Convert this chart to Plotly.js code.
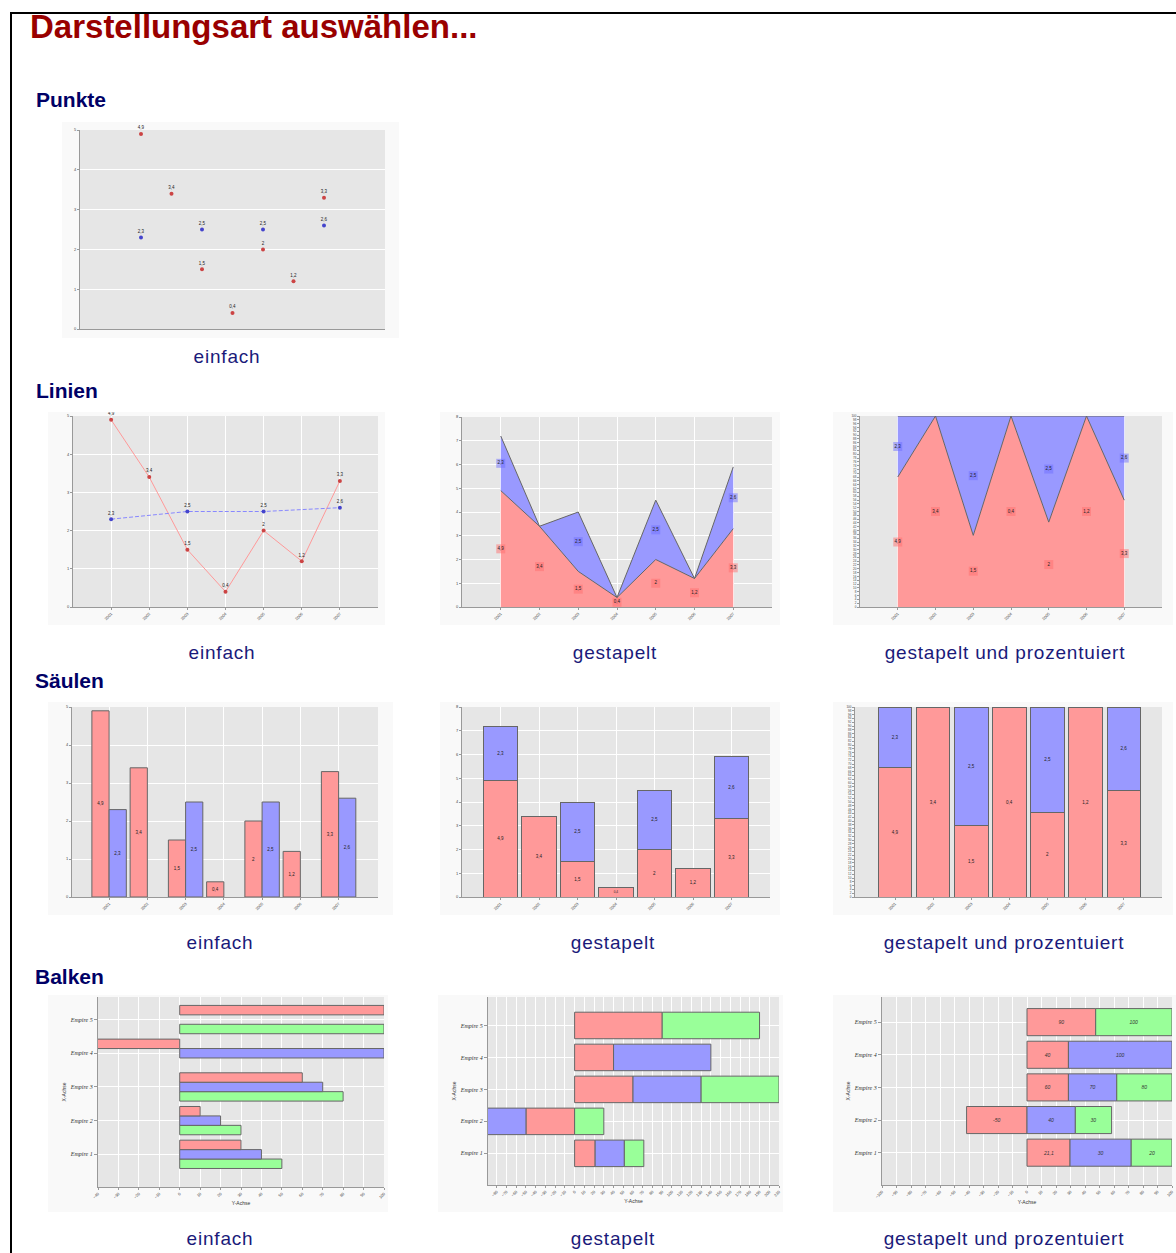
<!DOCTYPE html>
<html><head><meta charset="utf-8">
<script src="https://cdn.plot.ly/plotly-3.0.1.min.js"></script>
<style>
body{margin:0;background:#fff;width:1176px;height:1253px;overflow:hidden;position:relative;font-family:"Liberation Sans",Arial,sans-serif}
#frame{position:absolute;left:10px;top:12px;width:1170px;height:1250px;border-top:2px solid #000;border-left:2px solid #000}
.t{position:absolute;white-space:nowrap}
#title{left:30px;top:7px;font-size:33px;line-height:40px;font-weight:bold;color:#990000}
.h{font-size:21px;line-height:26px;font-weight:bold;color:#000066}
.c{font-size:19px;line-height:24px;letter-spacing:0.8px;color:#1a1a7a;transform:translateX(-50%)}
.p{position:absolute}
</style></head><body>
<div id="frame"></div>
<div id="title" class="t">Darstellungsart auswählen...</div>
<div class="t h" style="left:36px;top:87px">Punkte</div>
<div class="t h" style="left:36px;top:378px">Linien</div>
<div class="t h" style="left:35px;top:668px">Säulen</div>
<div class="t h" style="left:35px;top:964px">Balken</div>

<div class="t c" style="left:227px;top:345px">einfach</div>
<div class="t c" style="left:222px;top:641px">einfach</div>
<div class="t c" style="left:615px;top:641px">gestapelt</div>
<div class="t c" style="left:1005px;top:641px">gestapelt und prozentuiert</div>
<div class="t c" style="left:220px;top:931px">einfach</div>
<div class="t c" style="left:613px;top:931px">gestapelt</div>
<div class="t c" style="left:1004px;top:931px">gestapelt und prozentuiert</div>
<div class="t c" style="left:220px;top:1227px">einfach</div>
<div class="t c" style="left:613px;top:1227px">gestapelt</div>
<div class="t c" style="left:1004px;top:1227px">gestapelt und prozentuiert</div>

<div id="pEinfach" class="p" style="left:62px;top:122px;width:337px;height:216px"></div>
<div id="lEinfach" class="p" style="left:48px;top:412px;width:337px;height:213px"></div>
<div id="lStack" class="p" style="left:440px;top:412px;width:340px;height:213px"></div>
<div id="lPct" class="p" style="left:833px;top:412px;width:340px;height:213px"></div>
<div id="sEinfach" class="p" style="left:48px;top:702px;width:345px;height:213px"></div>
<div id="sStack" class="p" style="left:440px;top:702px;width:340px;height:213px"></div>
<div id="sPct" class="p" style="left:833px;top:702px;width:340px;height:213px"></div>
<div id="bEinfach" class="p" style="left:48px;top:995px;width:340px;height:217px"></div>
<div id="bStack" class="p" style="left:438px;top:995px;width:345px;height:217px"></div>
<div id="bPct" class="p" style="left:833px;top:995px;width:343px;height:217px"></div>

<script>
// ---------- data ----------
const years = ['2001','2002','2003','2004','2005','2006','2007'];
const redValues = [4.9, 3.4, 1.5, 0.4, 2, 1.2, 3.3];
const blueValues = [2.3, null, 2.5, null, 2.5, null, 2.6];

const empires = ['Empire 1','Empire 2','Empire 3','Empire 4','Empire 5'];
// Balken einfach
const barSimpleRed   = [30, 10, 60, -50, 100];
const barSimpleBlue  = [40, 20, 70, 100, null];
const barSimpleGreen = [50, 30, 80, null, 100];
// Balken gestapelt
const barStackRed   = [21.1, -50, 60, 40, 90];
const barStackBlue  = [30, -40, 70, 100, null];
const barStackGreen = [20, 30, 80, null, 100];
// Balken gestapelt und prozentuiert
const barPctRed   = [21.1, -50, 60, 40, 90];
const barPctBlue  = [30, 40, 70, 100, null];
const barPctGreen = [20, 30, 80, null, 100];

// ---------- style ----------
const RED='#ff9999', BLUE='#9999ff', GREEN='#99ff99', EDGE='#666666';
const fmt = v => (v===null||v===undefined) ? '' : String(v).replace('.', ',');
const tf = {size:4, color:'#444', family:'Liberation Sans, Arial'};
function axis(extra){
  return Object.assign({showline:true, linecolor:'#999', linewidth:1, gridcolor:'#ffffff', gridwidth:1,
    zeroline:false, ticks:'outside', ticklen:2, tickcolor:'#999', tickfont:tf, fixedrange:true}, extra||{});
}
function base(m, extra){
  return Object.assign({margin:m, paper_bgcolor:'#f9f9f9', plot_bgcolor:'#e6e6e6', showlegend:false,
    font:{family:'Liberation Sans, Arial', size:5, color:'#222'}}, extra||{});
}
const cfg = {staticPlot:true, displayModeBar:false};
const idx = years.map((_,i)=>i);
// label trace: small coloured boxes with text
function labelTrace(xs, ys, texts, bg){
  return {type:'scatter', x:xs, y:ys, text:texts, mode:'markers+text', textposition:'middle center',
    textfont:{size:4.5, color:'#222'}, marker:{symbol:'square', size:[], color:bg, line:{width:0}},
    hoverinfo:'skip', cliponaxis:false};
}
function withSizes(tr){ tr.marker.size = tr.text.map(()=>9); return tr; }

// ---------- Punkte einfach ----------
Plotly.newPlot('pEinfach', [
  {x:idx, y:redValues, mode:'markers+text', text:redValues.map(fmt), textposition:'top center',
   textfont:{size:4.5,color:'#222'}, marker:{color:'#cc4444', size:4}, cliponaxis:false},
  {x:idx, y:blueValues, mode:'markers+text', text:blueValues.map(fmt), textposition:'top center',
   textfont:{size:4.5,color:'#222'}, marker:{color:'#4444cc', size:4}, cliponaxis:false}
], base({l:18,r:14,t:8,b:9}, {
  xaxis:axis({range:[-2,8], showticklabels:false, ticks:'', showgrid:false}),
  yaxis:axis({range:[0,5], dtick:1})
}), cfg);

// ---------- Linien einfach ----------
Plotly.newPlot('lEinfach', [
  {x:years, y:redValues, mode:'lines+markers+text', text:redValues.map(fmt), textposition:'top center',
   textfont:{size:4.5,color:'#222'}, line:{color:'#ff9999', width:1}, marker:{color:'#cc4444', size:4}, cliponaxis:false},
  {x:years, y:blueValues, mode:'lines+markers+text', connectgaps:true, text:blueValues.map(fmt), textposition:'top center',
   textfont:{size:4.5,color:'#222'}, line:{color:'#8888ff', width:1, dash:'4px,2px'}, marker:{color:'#4444cc', size:4}, cliponaxis:false}
], base({l:25,r:7,t:4,b:18}, {
  xaxis:axis({type:'category', range:[-1,7], tickangle:-45}),
  yaxis:axis({range:[0,5], dtick:1})
}), cfg);

// ---------- Linien gestapelt ----------
(function(){
  const rx=[], ry=[], rt=[], bx=[], by=[], bt=[];
  idx.forEach(i=>{
    rx.push(years[i]); ry.push(redValues[i]/2); rt.push(fmt(redValues[i]));
    if(blueValues[i]!==null){ bx.push(years[i]); by.push(redValues[i]+blueValues[i]/2); bt.push(fmt(blueValues[i])); }
  });
  Plotly.newPlot('lStack', [
    {x:years, y:redValues, stackgroup:'one', mode:'lines', line:{color:EDGE, width:1}, fillcolor:RED},
    {x:years, y:blueValues, stackgroup:'one', mode:'lines', line:{color:EDGE, width:1}, fillcolor:BLUE},
    withSizes(labelTrace(rx, ry, rt, 'rgba(255,110,110,0.7)')),
    withSizes(labelTrace(bx, by, bt, 'rgba(110,110,255,0.7)'))
  ], base({l:22,r:8,t:5,b:18}, {
    xaxis:axis({type:'category', range:[-1,7], tickangle:-45}),
    yaxis:axis({range:[0,8], dtick:1})
  }), cfg);
})();

// ---------- Linien gestapelt und prozentuiert ----------
(function(){
  const rx=[], ry=[], rt=[], bx=[], by=[], bt=[];
  idx.forEach(i=>{
    const b = blueValues[i]||0, tot = redValues[i]+b;
    const rp = redValues[i]/tot*100, bp = b/tot*100;
    rx.push(years[i]); ry.push(rp/2); rt.push(fmt(redValues[i]));
    if(blueValues[i]!==null){ bx.push(years[i]); by.push(rp+bp/2); bt.push(fmt(blueValues[i])); }
  });
  Plotly.newPlot('lPct', [
    {x:years, y:redValues, stackgroup:'one', groupnorm:'percent', mode:'lines', line:{color:EDGE, width:1}, fillcolor:RED},
    {x:years, y:blueValues, stackgroup:'one', mode:'lines', line:{color:EDGE, width:1}, fillcolor:BLUE},
    withSizes(labelTrace(rx, ry, rt, 'rgba(255,110,110,0.7)')),
    withSizes(labelTrace(bx, by, bt, 'rgba(110,110,255,0.7)'))
  ], base({l:27,r:11,t:4,b:18}, {
    xaxis:axis({type:'category', range:[-1,7], tickangle:-45}),
    yaxis:axis({range:[0,100], dtick:2, showgrid:false, tickfont:{size:3,color:'#444'}})
  }), cfg);
})();

// ---------- Säulen ----------
const colBar = (y, color) => ({type:'bar', x:years, y:y, marker:{color:color, line:{color:EDGE, width:1}},
  text:y.map(fmt), textposition:'inside', insidetextanchor:'middle', textfont:{size:4.5, color:'#222'}, textangle:0});

Plotly.newPlot('sEinfach', [colBar(redValues, RED), colBar(blueValues, BLUE)],
  base({l:24,r:15,t:5,b:18}, {barmode:'group', bargap:0.1, bargroupgap:0,
    xaxis:axis({type:'category', range:[-0.97,7.03], tickangle:-45}),
    yaxis:axis({range:[0,5], dtick:1})}), cfg);

Plotly.newPlot('sStack', [colBar(redValues, RED), colBar(blueValues, BLUE)],
  base({l:22,r:10,t:5,b:18}, {barmode:'stack', bargap:0.1,
    xaxis:axis({type:'category', range:[-1,7], tickangle:-45}),
    yaxis:axis({range:[0,8], dtick:1})}), cfg);

Plotly.newPlot('sPct', [colBar(redValues, RED), colBar(blueValues, BLUE)],
  base({l:22,r:11,t:5,b:18}, {barmode:'stack', barnorm:'percent', bargap:0.12,
    xaxis:axis({type:'category', range:[-1.05,7], tickangle:-45}),
    yaxis:axis({range:[0,100], dtick:2, showgrid:false, tickfont:{size:3,color:'#444'}})}), cfg);

// ---------- Balken ----------
const hAxis = extra => axis(Object.assign({tickangle:-45, dtick:10,
  title:{text:'Y-Achse', font:{size:5, color:'#333'}, standoff:2}}, extra));
const vAxis = extra => axis(Object.assign({type:'category', ticklen:3,
  tickfont:{size:6, color:'#333', style:'italic', family:'Liberation Serif, serif'},
  title:{text:'X-Achse', font:{size:5, color:'#333'}, standoff:3}}, extra));
const hBar = (x, color, text) => ({type:'bar', orientation:'h', y:empires, x:x,
  marker:{color:color, line:{color:EDGE, width:1}},
  text:text||[], textposition:'inside', insidetextanchor:'middle', textangle:0,
  textfont:{size:5, color:'#333', style:'italic'}});

Plotly.newPlot('bEinfach', [hBar(barSimpleGreen, GREEN), hBar(barSimpleBlue, BLUE), hBar(barSimpleRed, RED)],
  base({l:50,r:4,t:2,b:25}, {barmode:'group', bargap:0.16, bargroupgap:0,
    xaxis:hAxis({range:[-40,100]}),
    yaxis:vAxis({range:[-0.97,4.67]})}), cfg);

Plotly.newPlot('bStack', [hBar(barStackRed, RED), hBar(barStackBlue, BLUE), hBar(barStackGreen, GREEN)],
  base({l:50,r:4,t:2,b:27}, {barmode:'relative', bargap:0.17,
    xaxis:hAxis({range:[-89,210]}),
    yaxis:vAxis({range:[-0.99,4.89]})}), cfg);

(function(){
  const tot = empires.map((_,i)=>Math.abs(barPctRed[i]||0)+Math.abs(barPctBlue[i]||0)+Math.abs(barPctGreen[i]||0));
  const pct = arr => arr.map((v,i)=> v===null ? null : v/tot[i]*100);
  Plotly.newPlot('bPct', [
    hBar(pct(barPctRed), RED, barPctRed.map(fmt)),
    hBar(pct(barPctBlue), BLUE, barPctBlue.map(fmt)),
    hBar(pct(barPctGreen), GREEN, barPctGreen.map(fmt))
  ], base({l:49,r:4,t:2,b:27}, {barmode:'relative', bargap:0.17,
    xaxis:hAxis({range:[-100,100]}),
    yaxis:vAxis({range:[-0.99,4.77]})}), cfg);
})();
</script>
</body></html>
